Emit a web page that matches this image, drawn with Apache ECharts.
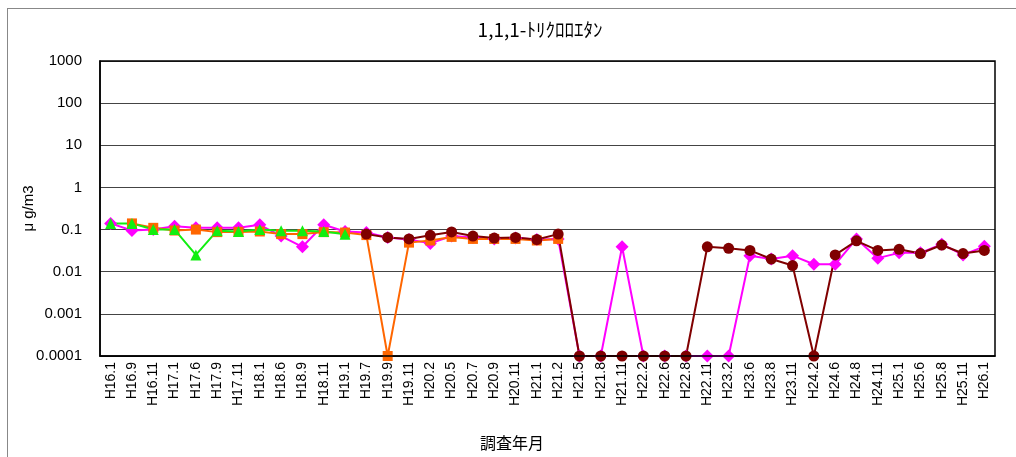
<!DOCTYPE html>
<html><head><meta charset="utf-8">
<script src="https://cdn.jsdelivr.net/npm/echarts@6/dist/echarts.min.js"></script>
<style>
html,body{margin:0;padding:0;background:#fff;}
#frame{position:absolute;left:7px;top:8px;width:1020px;height:460px;border:1px solid #888;box-sizing:border-box;}
#c{position:absolute;left:0;top:0;width:1016px;height:457px;}
</style></head>
<body><div id="frame"></div><div id="c"></div>
<script>
const categories = ['H16.1','H16.9','H16.11','H17.1','H17.6','H17.9','H17.11','H18.1','H18.6','H18.9','H18.11','H19.1','H19.7','H19.9','H19.11','H20.2','H20.5','H20.7','H20.9','H20.11','H21.1','H21.2','H21.5','H21.8','H21.11','H22.2','H22.6','H22.8','H22.11','H23.2','H23.6','H23.8','H23.11','H24.2','H24.6','H24.8','H24.11','H25.1','H25.6','H25.8','H25.11','H26.1'];
const magentaValues = [0.14,0.095,0.1,0.12,0.11,0.11,0.11,0.13,0.07,0.039,0.13,0.09,0.085,0.065,0.058,0.047,0.07,0.065,0.06,0.063,0.058,0.06,0.0001,0.0001,0.039,0.0001,0.0001,0.0001,0.0001,0.0001,0.024,0.02,0.024,0.015,0.015,0.06,0.021,0.028,0.028,0.045,0.025,0.04];
const orangeValues = [null,0.14,0.11,0.095,0.1,0.087,0.088,0.09,0.078,0.078,0.087,0.085,0.074,0.0001,0.049,0.055,0.067,0.06,0.06,0.06,0.055,0.06,null,null,null,null,null,null,null,null,null,null,null,null,null,null,null,null,null,null,null,null];
const greenValues = [0.14,0.14,0.1,0.1,0.025,0.094,0.09,0.1,0.094,0.094,0.09,0.077,null,null,null,null,null,null,null,null,null,null,null,null,null,null,null,null,null,null,null,null,null,null,null,null,null,null,null,null,null,null];
const maroonValues = [null,null,null,null,null,null,null,null,null,null,null,null,0.078,0.065,0.06,0.073,0.088,0.07,0.063,0.065,0.058,0.078,0.0001,0.0001,0.0001,0.0001,0.0001,0.0001,0.039,0.036,0.032,0.02,0.014,0.0001,0.025,0.054,0.032,0.034,0.027,0.043,0.027,0.032];
const yTickLabels = {'0.0001':'0.0001','0.001':'0.001','0.01':'0.01','0.1':'0.1','1':'1','10':'10','100':'100','1000':'1000'};
const titleText = '1,1,1-ﾄﾘｸﾛﾛｴﾀﾝ';
const xAxisName = '調査年月';
const yAxisName = 'μ g/m3';

const chart = echarts.init(document.getElementById('c'));
function mk(name, data, color, symbol, size){
  return {name, type:'line', data, symbol, symbolSize:size, connectNulls:false,
    lineStyle:{color, width:2}, itemStyle:{color, borderWidth:0}, animation:false};
}
chart.setOption({
  backgroundColor:'transparent',
  grid:{left:100, right:21, top:61, bottom:101},
  xAxis:{type:'category', data:categories, boundaryGap:true,
    axisLine:{lineStyle:{color:'#000', width:1.5}},
    axisTick:{inside:true, length:5, interval:0, lineStyle:{color:'#000'}},
    axisLabel:{rotate:90, interval:0, fontFamily:'Liberation Sans', fontSize:14, color:'#000', margin:6},
    splitLine:{show:false}},
  yAxis:{type:'log', logBase:10, min:0.0001, max:1000,
    name:yAxisName, nameLocation:'middle', nameGap:64, nameRotate:90, nameMoveOverlap:false,
    nameTextStyle:{fontFamily:'Liberation Sans', fontSize:15, color:'#000'},
    axisLine:{show:true, lineStyle:{color:'#000', width:1.5}},
    axisTick:{show:false},
    axisLabel:{fontFamily:'Liberation Sans', fontSize:15, color:'#000', margin:18,
      formatter:v=>{const k=String(+v.toPrecision(3)); return yTickLabels[k]!==undefined?yTickLabels[k]:k;}},
    splitLine:{show:true, lineStyle:{color:'#444', width:1.2}}},
  series:[
    mk('A', magentaValues, '#FF00FF', 'diamond', 13),
    mk('B', orangeValues, '#FF6600', 'rect', 10),
    mk('C', greenValues, '#11EE11', 'triangle', 11),
    mk('D', maroonValues, '#800000', 'circle', 11)
  ],
  graphic:[
    {type:'rect', shape:{x:100,y:61,width:895,height:295}, style:{fill:'none', stroke:'#000', lineWidth:1.5}, silent:true, z:100},
    {type:'text', x:540, y:30, style:{text:titleText, fontFamily:'Noto Sans CJK JP', fontSize:19, fill:'#000', textAlign:'center', textVerticalAlign:'middle'}, silent:true},
    {type:'text', x:512, y:443, style:{text:xAxisName, fontFamily:'Noto Sans CJK JP', fontSize:16, fill:'#000', textAlign:'center', textVerticalAlign:'middle'}, silent:true}
  ]
});
</script></body></html>
